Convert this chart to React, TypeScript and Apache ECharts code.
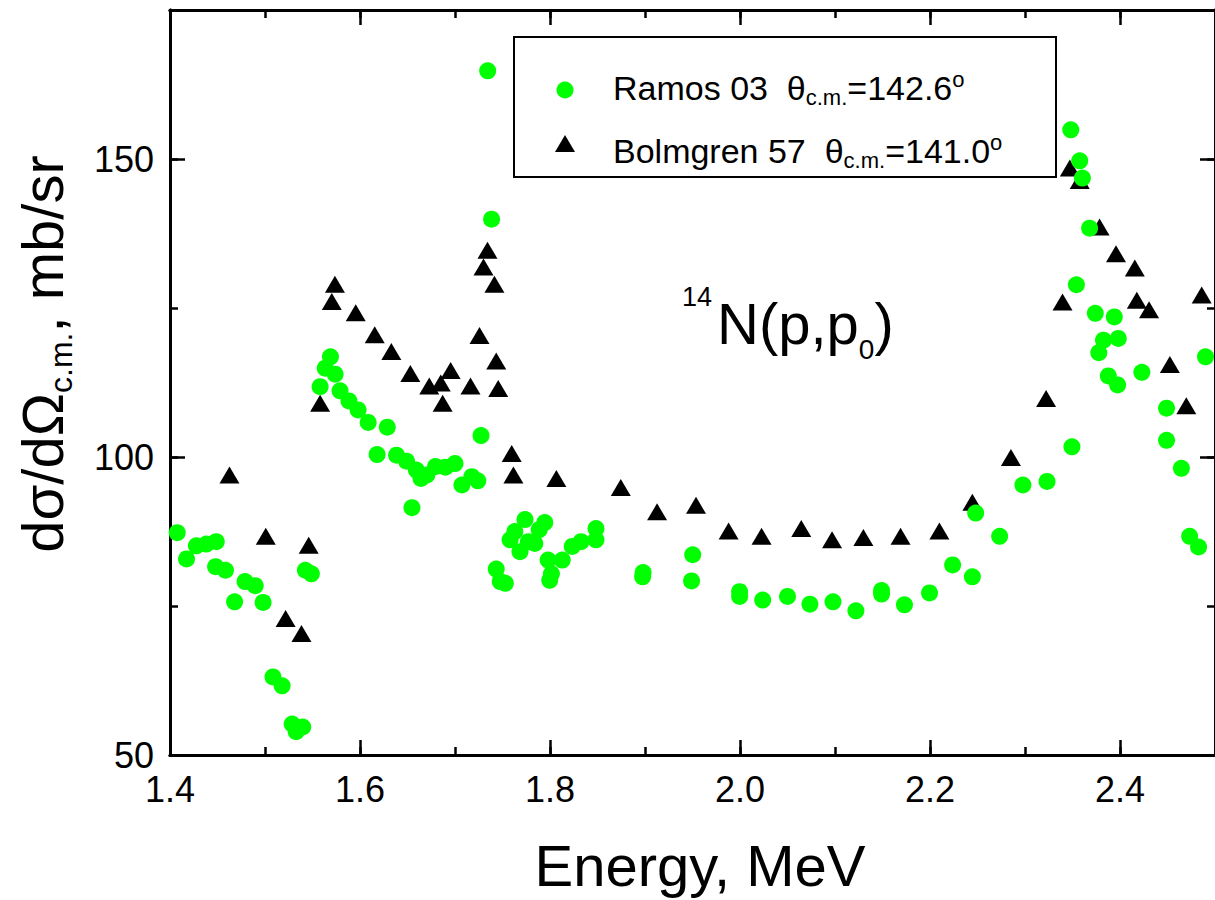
import React, { useEffect, useRef } from "react";
import * as echarts from "echarts";

// Ramos 03 (θc.m. = 142.6°): energy (MeV) and cross section (mb/sr)
const ramosEnergy = [
  1.4076, 1.4174, 1.4278, 1.4383, 1.4487, 1.448, 1.4584, 1.468, 1.479, 1.4897,
  1.498, 1.5084, 1.518, 1.5286, 1.5328, 1.5397, 1.5425, 1.5488, 1.558, 1.5634,
  1.5689, 1.5738, 1.579, 1.5884, 1.598, 1.6086, 1.618, 1.6287, 1.6385, 1.649,
  1.6547, 1.6593, 1.6642, 1.6704, 1.6795, 1.6899, 1.7, 1.7073, 1.7177, 1.724,
  1.7274, 1.7344, 1.7385, 1.7434, 1.7476, 1.753, 1.758, 1.763, 1.7684, 1.7737,
  1.7772, 1.784, 1.7886, 1.7945, 1.798, 1.7997, 1.8015, 1.8129, 1.8234, 1.8327,
  1.8484, 1.8484, 1.898, 1.8975, 1.9502, 1.949, 1.9996, 1.9996, 2.0239, 2.05,
  2.0736, 2.0979, 2.122, 2.149, 2.149, 2.1731, 2.1995, 2.2238, 2.2446, 2.2481,
  2.2733, 2.2978, 2.3232, 2.3482, 2.3494, 2.3541, 2.3576, 2.3604, 2.368, 2.374,
  2.3777, 2.3826, 2.3877, 2.394, 2.3975, 2.3982, 2.423, 2.449, 2.449, 2.4646,
  2.4733, 2.4827, 2.49,
];
const ramosXS = [
  87.3, 82.9, 85.1, 85.4, 85.8, 81.6, 81.0, 75.7, 79.1, 78.4,
  75.6, 63.1, 61.6, 55.2, 53.9, 54.7, 81.0, 80.4, 111.8, 114.9,
  116.8, 113.9, 111.1, 109.4, 107.9, 105.8, 100.4, 105.0, 100.3, 99.3,
  91.5, 97.8, 96.4, 97.0, 98.4, 98.3, 98.9, 95.3, 96.7, 96.0,
  103.6, 164.8, 139.9, 81.2, 79.1, 78.8, 86.1, 87.5, 84.1, 89.5,
  85.8, 85.5, 87.8, 89.0, 82.7, 79.3, 80.4, 82.7, 85.0, 85.8,
  88.0, 86.1, 80.6, 79.9, 83.6, 79.2, 77.4, 76.6, 76.0, 76.6,
  75.3, 75.7, 74.2, 77.6, 77.0, 75.2, 77.2, 81.9, 79.9, 90.6,
  86.7, 95.3, 95.9, 154.9, 101.7, 128.9, 149.7, 146.8, 138.4, 124.1,
  117.5, 119.6, 113.6, 123.5, 112.1, 119.9, 114.2, 108.2, 102.8, 98.1,
  86.7, 84.9, 116.8,
];

// Bolmgren 57 (θc.m. = 141.0°)
const bolmEnergy = [
  1.4626, 1.5008, 1.5217, 1.5384, 1.546, 1.558, 1.5703, 1.5736, 1.5955, 1.6155,
  1.633, 1.653, 1.6729, 1.685, 1.687, 1.6954, 1.7163, 1.7258, 1.73, 1.7342,
  1.7415, 1.7434, 1.7455, 1.7597, 1.7615, 1.8067, 1.8745, 1.9127, 1.9537, 1.988,
  2.0227, 2.0645, 2.0969, 2.1299, 2.169, 2.2099, 2.2446, 2.2852, 2.3222, 2.3395,
  2.3472, 2.3576, 2.3785, 2.3958, 2.4156, 2.4177, 2.4306, 2.4525, 2.4698, 2.486,
];
const bolmXS = [
  97.0, 86.7, 72.9, 70.4, 85.2, 109.0, 126.1, 129.0, 124.2, 120.5,
  117.7, 114.0, 111.9, 112.4, 109.0, 114.5, 111.9, 120.4, 131.9, 134.7,
  129.0, 116.1, 111.5, 100.6, 97.0, 96.4, 94.9, 90.8, 91.9, 87.6,
  86.7, 88.0, 86.1, 86.5, 86.7, 87.6, 92.4, 99.9, 109.8, 126.0,
  148.5, 146.4, 138.6, 134.1, 131.7, 126.3, 124.7, 115.5, 108.6, 127.2,
];

const xMin = 1.4;
const xMax = 2.5;
const xMajor = 0.2;
const xMinor = 0.1;
const yMin = 50;
const yMax = 175;
const yMajor = 50;
const yMinor = 25;

const FONT = "'Liberation Sans', Arial, Helvetica, sans-serif";
const GREEN = "#00ff00";

function xAxisDef(gridIndex: number, position: string, interval: number, tickLen: number, labels: boolean) {
  return {
    type: "value",
    gridIndex,
    position,
    min: xMin,
    max: xMax,
    interval,
    axisLine: { show: true, onZero: false, lineStyle: { color: "#000", width: 3 } },
    axisTick: { show: true, inside: true, length: tickLen, lineStyle: { color: "#000", width: 2.5 } },
    axisLabel: {
      show: labels,
      showMaxLabel: false,
      margin: 16,
      color: "#000",
      fontSize: 36,
      fontFamily: FONT,
      formatter: (v: number) => v.toFixed(1),
    },
    splitLine: { show: false },
  };
}

function yAxisDef(gridIndex: number, position: string, interval: number, tickLen: number, labels: boolean) {
  return {
    type: "value",
    gridIndex,
    position,
    min: yMin,
    max: yMax,
    interval,
    axisLine: { show: true, onZero: false, lineStyle: { color: "#000", width: 3 } },
    axisTick: { show: true, inside: true, length: tickLen, lineStyle: { color: "#000", width: 2.5 } },
    axisLabel: {
      show: labels,
      showMaxLabel: false,
      margin: 16,
      color: "#000",
      fontSize: 36,
      fontFamily: FONT,
      formatter: (v: number) => String(Math.round(v)),
    },
    splitLine: { show: false },
  };
}

export default function App() {
  const ref = useRef<HTMLDivElement>(null);

  useEffect(() => {
    if (!ref.current) return;
    const chart = echarts.init(ref.current, undefined, { renderer: "svg" });
    const gridRect = { left: 170, top: 10, width: 1054, height: 745 };

    const ramosData = ramosEnergy.map((e, i) => [e, ramosXS[i]]);
    const bolmData = bolmEnergy.map((e, i) => [e, bolmXS[i]]);

    const legendRich = {
      a: { fontSize: 34, lineHeight: 40, fontFamily: FONT, fill: "#000" },
      s: { fontSize: 22, lineHeight: 12, verticalAlign: "bottom", fontFamily: FONT, fill: "#000" },
      o: { fontSize: 22, lineHeight: 17, verticalAlign: "top", fontFamily: FONT, fill: "#000" },
    };

    chart.setOption({
      animation: false,
      backgroundColor: "#fff",
      grid: [
        { ...gridRect, containLabel: false },
        { ...gridRect, containLabel: false },
      ],
      xAxis: [
        xAxisDef(0, "bottom", xMajor, 15, true),
        xAxisDef(0, "top", xMajor, 15, false),
        xAxisDef(1, "bottom", xMinor, 8, false),
        xAxisDef(1, "top", xMinor, 8, false),
      ],
      yAxis: [
        yAxisDef(0, "left", yMajor, 15, true),
        yAxisDef(0, "right", yMajor, 15, false),
        yAxisDef(1, "left", yMinor, 8, false),
        yAxisDef(1, "right", yMinor, 8, false),
      ],
      series: [
        {
          type: "scatter",
          name: "Bolmgren 57",
          xAxisIndex: 0,
          yAxisIndex: 0,
          symbol: "triangle",
          symbolSize: [20, 17],
          itemStyle: { color: "#000", opacity: 1 },
          data: bolmData,
        },
        {
          type: "scatter",
          name: "Ramos 03",
          xAxisIndex: 0,
          yAxisIndex: 0,
          symbol: "circle",
          symbolSize: 17,
          itemStyle: { color: GREEN, opacity: 1 },
          data: ramosData,
        },
      ],
      graphic: [
        {
          type: "rect",
          z: 100,
          shape: { x: 514, y: 37, width: 542, height: 140 },
          style: { fill: "#fff", stroke: "#000", lineWidth: 2 },
        },
        {
          type: "circle",
          z: 101,
          shape: { cx: 565, cy: 90, r: 8.5 },
          style: { fill: GREEN },
        },
        {
          type: "polygon",
          z: 101,
          shape: { points: [[555, 152], [575, 152], [565, 135]] },
          style: { fill: "#000" },
        },
        {
          type: "text",
          z: 101,
          x: 613,
          y: 88,
          style: {
            text: "{a|Ramos 03  θ}{s|c.m.}{a|=142.6}{o|o}",
            align: "left",
            verticalAlign: "middle",
            rich: legendRich,
          },
        },
        {
          type: "text",
          z: 101,
          x: 613,
          y: 151,
          style: {
            text: "{a|Bolmgren 57  θ}{s|c.m.}{a|=141.0}{o|o}",
            align: "left",
            verticalAlign: "middle",
            rich: legendRich,
          },
        },
        {
          type: "text",
          z: 101,
          x: 682,
          y: 323,
          style: {
            text: "{sp|14}{mn|N(p,p}{sb|0}{mn|)}",
            align: "left",
            verticalAlign: "middle",
            rich: {
              mn: { fontSize: 58, lineHeight: 80, fontFamily: FONT, fill: "#000" },
              sp: { fontSize: 27, lineHeight: 30, verticalAlign: "top", fontFamily: FONT, fill: "#000", padding: [0, 5, 0, 0] },
              sb: { fontSize: 28, lineHeight: 8, verticalAlign: "bottom", fontFamily: FONT, fill: "#000" },
            },
          },
        },
        {
          type: "text",
          z: 101,
          x: 42,
          y: 354,
          rotation: Math.PI / 2,
          style: {
            text: "{m|dσ/dΩ}{s|c.m.}{m|, mb/sr}",
            align: "center",
            verticalAlign: "middle",
            rich: {
              m: { fontSize: 58, lineHeight: 70, fontFamily: FONT, fill: "#000" },
              s: { fontSize: 32, lineHeight: 16, verticalAlign: "bottom", fontFamily: FONT, fill: "#000" },
            },
          },
        },
        {
          type: "text",
          z: 101,
          x: 700,
          y: 865,
          style: {
            text: "Energy, MeV",
            align: "center",
            verticalAlign: "middle",
            fontSize: 58,
            fontFamily: FONT,
            fill: "#000",
          },
        },
      ],
    });

    return () => {
      chart.dispose();
    };
  }, []);

  return (
    <div
      ref={ref}
      style={{ position: "absolute", left: 0, top: 0, width: 1215, height: 900, background: "#fff" }}
    />
  );
}
